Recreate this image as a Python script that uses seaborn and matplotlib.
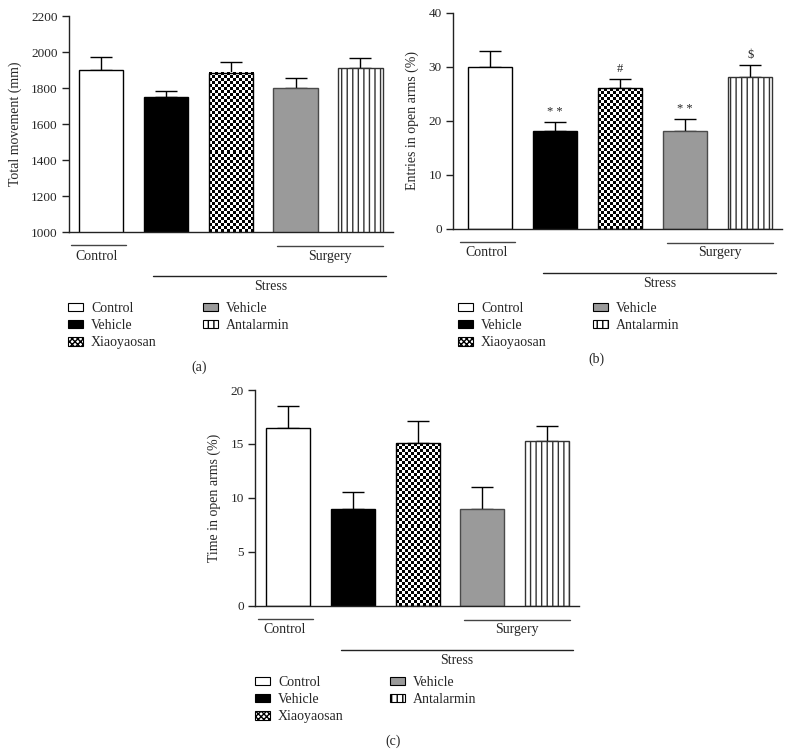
import numpy as np
import pandas as pd
import matplotlib.pyplot as plt
import seaborn as sns
from matplotlib.patches import Patch
from matplotlib.transforms import blended_transform_factory

### data (mean and upper SEM)
groups = ['Control', 'Stress vehicle', 'Xiaoyaosan', 'Surgery vehicle', 'Antalarmin']
legend_labels = ['Control', 'Vehicle', 'Xiaoyaosan', 'Vehicle', 'Antalarmin']

movement_mean = [1900, 1750, 1885, 1800, 1910]
movement_sem = [70, 33, 58, 57, 58]

entries_mean = [30, 18, 26, 18, 28]
entries_sem = [2.9, 1.7, 1.7, 2.3, 2.3]
entries_marks = ['', '* *', '#', '* *', '$']

time_mean = [16.5, 9.0, 15.1, 9.0, 15.25]
time_sem = [2.05, 1.55, 2.05, 2.0, 1.4]

bar_colors = ['white', 'black', 'white', '#9a9a9a', 'white']
bar_edges = ['black', 'black', 'black', '#4a4a4a', '#333333']

sns.set_style('ticks')
plt.rcParams['font.family'] = ['Liberation Serif', 'DejaVu Serif']
plt.rcParams['hatch.linewidth'] = 1.0

fig = plt.figure(figsize=(7.9, 7.55), dpi=100)


def draw_panel(rect, means, sems, ylim, yticks, ylabel, xlim, marks=None):
    ax = fig.add_axes(rect)
    df = pd.DataFrame({'group': groups, 'value': means})
    sns.barplot(data=df, x='group', y='value', hue='group', palette=dict(zip(groups, bar_colors)),
                legend=False, errorbar=None, width=0.68, saturation=1,
                edgecolor='black', linewidth=1, ax=ax)
    ax.set_xlim(xlim)
    ax.set_ylim(ylim)
    ax.set_yticks(yticks)
    ax.tick_params(axis='y', labelsize=9.5, length=5, width=1, pad=3, color='#222222')
    ax.tick_params(axis='x', length=0, labelbottom=False)
    ax.set_xlabel('')
    ax.set_ylabel(ylabel, fontsize=10, labelpad=7)
    for s in ['left', 'bottom']:
        ax.spines[s].set_linewidth(1)
        ax.spines[s].set_color('#222222')
    sns.despine(ax=ax)

    bars = ax.patches[:5]
    for b, ec in zip(bars, bar_edges):
        b.set_edgecolor(ec)
    bars[4].set_hatch('|||')

    # checkerboard fill for the Xiaoyaosan bar
    b = bars[2]
    x0, w = b.get_x(), b.get_width()
    y0 = max(b.get_y(), ylim[0])
    y1 = b.get_y() + b.get_height()
    p0 = ax.transData.transform((x0, y0))
    p1 = ax.transData.transform((x0 + w, y1))
    nx = max(int(round((p1[0] - p0[0]) / 3.0)), 1)
    ny = max(int(round((p1[1] - p0[1]) / 3.0)), 1)
    checker = np.indices((ny, nx)).sum(axis=0) % 2
    ax.imshow(checker, cmap='gray', extent=[x0, x0 + w, y0, y1], aspect='auto',
              interpolation='nearest', zorder=0.9)
    b.set_facecolor('none')
    b.set_zorder(1)
    ax.set_xlim(xlim)
    ax.set_ylim(ylim)

    # upper error bars only
    ax.errorbar(np.arange(5), means, yerr=[np.zeros(5), sems], fmt='none', ecolor='black',
                elinewidth=1, capsize=8, capthick=1, zorder=0.8)

    if marks is not None:
        for i, m in enumerate(marks):
            if m:
                ax.annotate(m, (i, means[i] + sems[i]), xytext=(0, 3), textcoords='offset points',
                            ha='center', va='bottom', fontsize=9)

    # group brackets below the axis
    tr = blended_transform_factory(ax.transData, ax.transAxes)
    ax.plot([-0.46, 0.39], [-0.06, -0.06], color='#444444', lw=1, transform=tr, clip_on=False)
    ax.plot([2.72, 4.35], [-0.067, -0.067], color='#444444', lw=1, transform=tr, clip_on=False)
    ax.plot([0.81, 4.40], [-0.205, -0.205], color='#222222', lw=1, transform=tr, clip_on=False)
    ax.text(-0.06, -0.112, 'Control', transform=tr, ha='center', va='center', fontsize=10)
    ax.text(3.53, -0.112, 'Surgery', transform=tr, ha='center', va='center', fontsize=10)
    ax.text(2.61, -0.253, 'Stress', transform=tr, ha='center', va='center', fontsize=10)
    return ax


def add_legend(x, y):
    hatches = ['', '', 'xxxxxx', '', '|||']
    face = ['white', 'black', 'white', '#9a9a9a', 'white']
    handles = [Patch(facecolor=f, edgecolor='black', hatch=h, linewidth=0.8)
               for f, h in zip(face, hatches)]
    fig.legend(handles, legend_labels, loc='upper left', bbox_to_anchor=(x / 790, 1 - y / 755),
               ncol=2, frameon=False, fontsize=10, borderpad=0, borderaxespad=0,
               handlelength=1.1, handleheight=0.55, handletextpad=0.55,
               labelspacing=0.3, columnspacing=3.35)


### (a) total movement
draw_panel([0.0873, 0.6927, 0.4101, 0.2861], movement_mean, movement_sem,
           (1000, 2200), np.arange(1000, 2201, 200), 'Total movement (mm)', (-0.49, 4.5))
add_legend(68, 302)
fig.text(199 / 790, 1 - 367 / 755, '(a)', ha='center', va='center', fontsize=10)

### (b) entries in open arms
draw_panel([0.5734, 0.6971, 0.4165, 0.2861], entries_mean, entries_sem,
           (0, 40), np.arange(0, 41, 10), 'Entries in open arms (%)', (-0.57, 4.49),
           marks=entries_marks)
add_legend(458, 302)
fig.text(596 / 790, 1 - 359 / 755, '(b)', ha='center', va='center', fontsize=10)

### (c) time in open arms
draw_panel([0.3228, 0.1977, 0.4101, 0.2857], time_mean, time_sem,
           (0, 20), np.arange(0, 21, 5), 'Time in open arms (%)', (-0.51, 4.49))
add_legend(255, 676)
fig.text(393 / 790, 1 - 741 / 755, '(c)', ha='center', va='center', fontsize=10)

plt.savefig('out.png', dpi=100)
